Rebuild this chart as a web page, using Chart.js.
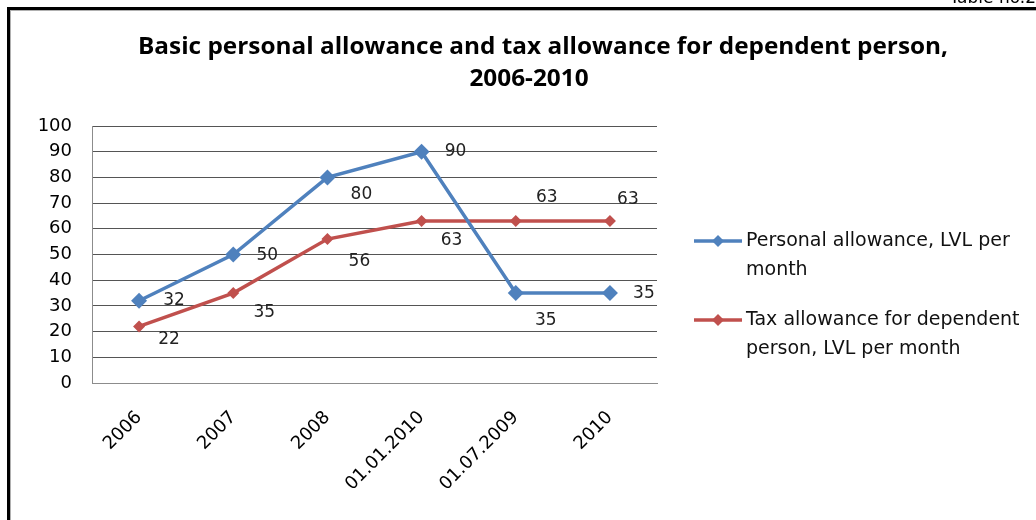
<!DOCTYPE html>
<html>
<head>
<meta charset="utf-8">
<script src="https://cdn.jsdelivr.net/npm/chart.js@4"></script>
<style>
  html, body { margin: 0; padding: 0; background: #fff; overflow: hidden; }
  #wrap { position: relative; width: 1036px; height: 520px; }
  #chart { position: absolute; left: 0; top: 0; }
  #frame { position: absolute; left: 7px; top: 7px; width: 1100px; height: 600px;
           border-top: 3px solid #000; border-left: 3px solid #000; pointer-events: none; }
  #frame-in { position: absolute; left: 0; top: 0; right: 0; bottom: 0;
              border-top: 1px solid #b0b0b0; border-left: 1px solid #b0b0b0; }
  #tag { position: absolute; right: 0; top: -13px; font: 17px "DejaVu Sans", sans-serif; color: #000; }
</style>
</head>
<body>
<div id="wrap">
  <canvas id="chart" width="1036" height="520"></canvas>
  <div id="frame"><div id="frame-in"></div></div>
  <div id="tag">Table no.2</div>
</div>
<script>
// Categories as printed on the x axis (order kept as in the source table)
const CATEGORIES = ['2006', '2007', '2008', '01.01.2010', '01.07.2009', '2010'];
const PERSONAL = [32, 50, 80, 90, 35, 35];
const DEPENDENT = [22, 35, 56, 63, 63, 63];
const Y_TICKS = [0, 10, 20, 30, 40, 50, 60, 70, 80, 90, 100];

const TITLE_LINES = ['Basic personal allowance and tax allowance for dependent person,', '2006-2010'];
const LEGEND_LINES = [
    ['Personal allowance, LVL per', 'month'],
    ['Tax allowance for dependent', 'person, LVL per month'],
];

const BLUE = '#4f81bd';
const RED = '#c0504d';
const FONT = '"DejaVu Sans", sans-serif';
const TITLE_FONT = '"Open Sans", sans-serif';

// Data labels were nudged by hand in the original; keep those nudges here (px).
const LABEL_NUDGE = [
    [[35, 0], [34, 1], [34, 17], [34, 0], [30, 28], [34, 1]],
    [[30, 13], [31, 20], [32, 22], [30, 19], [31, -24], [18, -22]],
];

const chartTitle = {
    id: 'chartTitle',
    afterDraw(chart) {
        const ctx = chart.ctx;
        ctx.save();
        ctx.fillStyle = '#000';
        ctx.font = 'bold 23px ' + TITLE_FONT;
        ctx.textBaseline = 'middle';
        ctx.textAlign = 'center';
        // the original title is a touch wider than any installed face; stretch it to fit
        const sx = 810 / ctx.measureText(TITLE_LINES[0]).width;
        ctx.scale(sx, 1);
        ctx.fillText(TITLE_LINES[0], 543 / sx, 47);
        ctx.fillText(TITLE_LINES[1], 529 / sx, 79);
        ctx.restore();
    },
};

const pointLabels = {
    id: 'pointLabels',
    afterDatasetsDraw(chart) {
        const ctx = chart.ctx;
        ctx.save();
        ctx.fillStyle = '#222';
        ctx.font = '17px ' + FONT;
        ctx.textAlign = 'center';
        ctx.textBaseline = 'middle';
        chart.data.datasets.forEach((ds, di) => {
            chart.getDatasetMeta(di).data.forEach((pt, i) => {
                const [dx, dy] = LABEL_NUDGE[di][i];
                ctx.fillText(String(ds.data[i]), pt.x + dx, pt.y + dy);
            });
        });
        ctx.restore();
    },
};

// Excel-style legend on the right with wrapped entries.
const sideLegend = {
    id: 'sideLegend',
    afterDraw(chart) {
        const ctx = chart.ctx;
        const x0 = 694, rowY = [241, 320], lineGap = 29;
        ctx.save();
        chart.data.datasets.forEach((ds, di) => {
            const y = rowY[di];
            ctx.strokeStyle = ds.borderColor;
            ctx.lineWidth = 3.5;
            ctx.beginPath();
            ctx.moveTo(x0, y);
            ctx.lineTo(x0 + 48, y);
            ctx.stroke();
            ctx.fillStyle = ds.borderColor;
            const r = 6;
            ctx.beginPath();
            ctx.moveTo(x0 + 24, y - r);
            ctx.lineTo(x0 + 24 + r, y);
            ctx.lineTo(x0 + 24, y + r);
            ctx.lineTo(x0 + 24 - r, y);
            ctx.closePath();
            ctx.fill();
            ctx.fillStyle = '#111';
            ctx.font = '19px ' + FONT;
            ctx.textAlign = 'left';
            ctx.textBaseline = 'middle';
            LEGEND_LINES[di].forEach((t, k) => ctx.fillText(t, x0 + 52, y + k * lineGap));
        });
        ctx.restore();
    },
};

new Chart(document.getElementById('chart'), {
    type: 'line',
    data: {
        labels: CATEGORIES,
        datasets: [
            {
                label: LEGEND_LINES[0].join(' '),
                data: PERSONAL,
                borderColor: BLUE,
                backgroundColor: BLUE,
                borderWidth: 3.5,
                pointStyle: 'rectRot',
                pointRadius: 8,
                pointBorderWidth: 0,
                tension: 0,
            },
            {
                label: LEGEND_LINES[1].join(' '),
                data: DEPENDENT,
                borderColor: RED,
                backgroundColor: RED,
                borderWidth: 3.5,
                pointStyle: 'rectRot',
                pointRadius: 6,
                pointBorderWidth: 0,
                tension: 0,
            },
        ],
    },
    options: {
        responsive: false,
        animation: false,
        devicePixelRatio: 1,
        layout: { padding: { left: 0, top: 126, right: 379, bottom: 0 } },
        plugins: {
            legend: { display: false },
            title: { display: false },
            tooltip: { enabled: false },
        },
        scales: {
            x: {
                offset: true,
                afterFit: s => { s.height = 137; },
                grid: { display: false, drawTicks: false },
                border: { display: true, color: '#8c8c8c', width: 1 },
                ticks: { color: '#000', minRotation: 45, maxRotation: 45, padding: 24, font: { family: FONT, size: 18 } },
            },
            y: {
                min: 0,
                max: 100,
                afterFit: s => { s.width = 92; },
                afterBuildTicks: s => { s.ticks = Y_TICKS.map(v => ({ value: v })); },
                grid: { color: '#555', drawTicks: false },
                border: { display: true, color: '#8c8c8c', width: 1 },
                ticks: { color: '#000', padding: 20, font: { family: FONT, size: 18 } },
            },
        },
    },
    plugins: [chartTitle, pointLabels, sideLegend],
});
</script>
</body>
</html>
